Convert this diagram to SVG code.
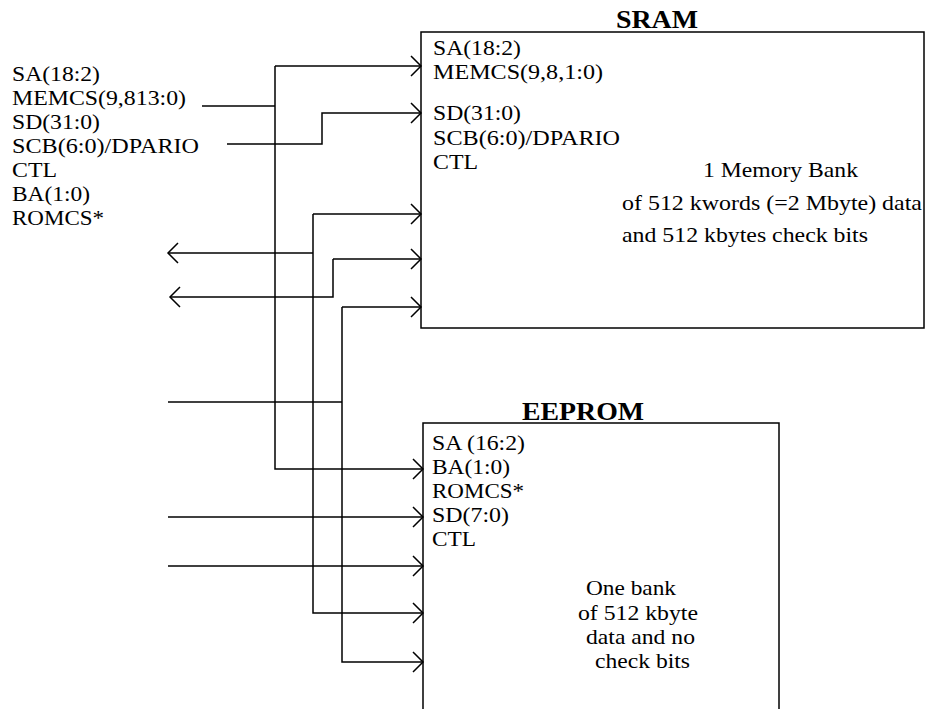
<svg xmlns="http://www.w3.org/2000/svg" width="925" height="709" viewBox="0 0 925 709">
<defs>
<style>
text{font-family:"Liberation Serif","Times New Roman",serif;font-size:21px;fill:#000}
.title{font-weight:bold;font-size:26px}
.box{fill:#fff;stroke:#000;stroke-width:1.5}
.w{fill:none;stroke:#000;stroke-width:1.5}
</style>
<marker id="ah" markerUnits="userSpaceOnUse" markerWidth="14" markerHeight="24" viewBox="-12 -12 14 24" refX="0" refY="0" orient="auto">
<path d="M-10,-10 L0,0 L-10,10" fill="none" stroke="#000" stroke-width="1.5"/>
</marker>
</defs>
<rect width="925" height="709" fill="#fff"/>
<g id="inputs">
<text x="12" y="81" textLength="88" lengthAdjust="spacingAndGlyphs">SA(18:2)</text>
<text x="12" y="105" textLength="174" lengthAdjust="spacingAndGlyphs">MEMCS(9,813:0)</text>
<text x="12" y="129" textLength="88" lengthAdjust="spacingAndGlyphs">SD(31:0)</text>
<text x="12" y="153" textLength="187" lengthAdjust="spacingAndGlyphs">SCB(6:0)/DPARIO</text>
<text x="12" y="177" textLength="45" lengthAdjust="spacingAndGlyphs">CTL</text>
<text x="12" y="201" textLength="78" lengthAdjust="spacingAndGlyphs">BA(1:0)</text>
<text x="12" y="225" textLength="92" lengthAdjust="spacingAndGlyphs">ROMCS*</text>
</g>
<g id="sram">
<rect class="box" x="421" y="32" width="503" height="296"/>
<text class="title" x="616" y="28" textLength="82" lengthAdjust="spacingAndGlyphs">SRAM</text>
<text x="433" y="55" textLength="88" lengthAdjust="spacingAndGlyphs">SA(18:2)</text>
<text x="433" y="79" textLength="170" lengthAdjust="spacingAndGlyphs">MEMCS(9,8,1:0)</text>
<text x="433" y="120" textLength="88" lengthAdjust="spacingAndGlyphs">SD(31:0)</text>
<text x="433" y="145" textLength="187" lengthAdjust="spacingAndGlyphs">SCB(6:0)/DPARIO</text>
<text x="433" y="169" textLength="45" lengthAdjust="spacingAndGlyphs">CTL</text>
<text x="703" y="177" textLength="155" lengthAdjust="spacingAndGlyphs">1 Memory Bank</text>
<text x="622" y="210" textLength="300" lengthAdjust="spacingAndGlyphs">of 512 kwords (=2 Mbyte) data</text>
<text x="622" y="242" textLength="246" lengthAdjust="spacingAndGlyphs">and 512 kbytes check bits</text>
</g>
<g id="eeprom">
<rect class="box" x="423" y="423" width="356" height="300"/>
<text class="title" x="522" y="420" textLength="122" lengthAdjust="spacingAndGlyphs">EEPROM</text>
<text x="432" y="450" textLength="93" lengthAdjust="spacingAndGlyphs">SA (16:2)</text>
<text x="432" y="474" textLength="78" lengthAdjust="spacingAndGlyphs">BA(1:0)</text>
<text x="432" y="498" textLength="92" lengthAdjust="spacingAndGlyphs">ROMCS*</text>
<text x="432" y="522" textLength="77" lengthAdjust="spacingAndGlyphs">SD(7:0)</text>
<text x="432" y="546" textLength="44" lengthAdjust="spacingAndGlyphs">CTL</text>
<text x="586" y="595" textLength="90" lengthAdjust="spacingAndGlyphs">One bank</text>
<text x="578" y="620" textLength="120" lengthAdjust="spacingAndGlyphs">of 512 kbyte</text>
<text x="586" y="644" textLength="109" lengthAdjust="spacingAndGlyphs">data and no</text>
<text x="595" y="668" textLength="95" lengthAdjust="spacingAndGlyphs">check bits</text>
</g>
<g id="connectors" class="w">
<path class="w" d="M202,106 H275"/>
<path class="w" d="M275,66 V469 H423" marker-end="url(#ah)"/>
<path class="w" d="M275,66 H421" marker-end="url(#ah)"/>
<path class="w" d="M227,144 H322 V113 H421" marker-end="url(#ah)"/>
<path class="w" d="M313,214 H421" marker-end="url(#ah)"/>
<path class="w" d="M313,214 V613 H423" marker-end="url(#ah)"/>
<path class="w" d="M313,253 H168" marker-end="url(#ah)"/>
<path class="w" d="M333,259 H421" marker-end="url(#ah)"/>
<path class="w" d="M333,259 V297 H170" marker-end="url(#ah)"/>
<path class="w" d="M342,307 H421" marker-end="url(#ah)"/>
<path class="w" d="M342,307 V662 H423" marker-end="url(#ah)"/>
<path class="w" d="M168,402 H342"/>
<path class="w" d="M168,517 H423" marker-end="url(#ah)"/>
<path class="w" d="M168,566 H423" marker-end="url(#ah)"/>
</g>
</svg>
